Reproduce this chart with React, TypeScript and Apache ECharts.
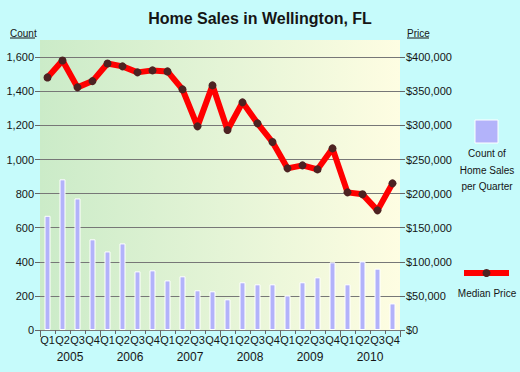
import React, { useEffect, useRef } from "react";
import * as echarts from "echarts";

const quarters = [
  "Q1", "Q2", "Q3", "Q4", "Q1", "Q2", "Q3", "Q4", "Q1", "Q2", "Q3", "Q4",
  "Q1", "Q2", "Q3", "Q4", "Q1", "Q2", "Q3", "Q4", "Q1", "Q2", "Q3", "Q4",
];
const years = ["2005", "2006", "2007", "2008", "2009", "2010"];
const salesCount = [
  670, 884, 772, 532, 461, 508, 344, 350, 291, 315, 233, 227,
  180, 280, 268, 268, 203, 280, 309, 397, 268, 403, 360, 156,
];
const medianPrice = [
  370500, 395400, 355900, 365100, 391000, 386700, 377900, 380800, 379300, 352900, 298700, 358800,
  293300, 333900, 303100, 275700, 237100, 241500, 235600, 266400, 201900, 199000, 175500, 215100,
];

const FONT = "Arial, 'Liberation Sans', sans-serif";
const TXT = "#151515";

export default function App() {
  const ref = useRef<HTMLDivElement>(null);
  useEffect(() => {
    if (!ref.current) return;
    const chart = echarts.init(ref.current, null, { renderer: "svg" });
    chart.setOption({
      animation: false,
      backgroundColor: "#c6fbfb",
      textStyle: { fontFamily: FONT },
      title: {
        text: "Home Sales in Wellington, FL",
        left: "center",
        top: 5,
        textStyle: { fontSize: 16, fontWeight: "bold", color: TXT, fontFamily: FONT },
      },
      grid: { left: 40, right: 120, top: 57.3, bottom: 42 },
      graphic: [
        {
          type: "rect",
          z: -100,
          shape: { x: 40, y: 40, width: 360, height: 290 },
          style: {
            fill: new echarts.graphic.LinearGradient(0, 0, 1, 0, [
              { offset: 0, color: "#cbebc8" },
              { offset: 0.5, color: "#e4f4d6" },
              { offset: 1, color: "#fefde2" },
            ]),
          },
        },
        { type: "text", x: 10, y: 33, style: { text: "Count", fontSize: 10, fill: TXT, fontFamily: FONT, textVerticalAlign: "middle" } },
        { type: "line", shape: { x1: 10, y1: 38, x2: 35, y2: 38 }, style: { stroke: TXT, lineWidth: 1 } },
        { type: "text", x: 407, y: 33, style: { text: "Price", fontSize: 10, fill: TXT, fontFamily: FONT, textVerticalAlign: "middle" } },
        { type: "line", shape: { x1: 407, y1: 38, x2: 429, y2: 38 }, style: { stroke: TXT, lineWidth: 1 } },
        // legend
        { type: "rect", shape: { x: 475, y: 120, width: 23, height: 23 }, style: { fill: "#b3b3fa", stroke: "#ffffff", lineWidth: 1 } },
        { type: "text", x: 487, y: 153, style: { text: "Count of", fontSize: 10, fill: TXT, fontFamily: FONT, textAlign: "center", textVerticalAlign: "middle" } },
        { type: "text", x: 487, y: 170, style: { text: "Home Sales", fontSize: 10, fill: TXT, fontFamily: FONT, textAlign: "center", textVerticalAlign: "middle" } },
        { type: "text", x: 487, y: 186, style: { text: "per Quarter", fontSize: 10, fill: TXT, fontFamily: FONT, textAlign: "center", textVerticalAlign: "middle" } },
        { type: "line", shape: { x1: 464, y1: 273, x2: 509, y2: 273 }, style: { stroke: "#ff0000", lineWidth: 6 } },
        { type: "circle", shape: { cx: 486.5, cy: 273, r: 4 }, style: { fill: "#4d2222" } },
        { type: "text", x: 487, y: 293, style: { text: "Median Price", fontSize: 10, fill: TXT, fontFamily: FONT, textAlign: "center", textVerticalAlign: "middle" } },
      ],
      xAxis: [
        {
          type: "category",
          data: quarters,
          position: "bottom",
          axisLine: { show: false },
          axisTick: { show: true, interval: 0, length: 4, lineStyle: { color: "#666" } },
          axisLabel: { interval: 0, margin: 4, fontSize: 11, color: TXT, fontFamily: FONT },
        },
        {
          type: "category",
          data: years,
          position: "bottom",
          axisLine: { show: false },
          axisTick: { show: true, interval: 0, length: 7, lineStyle: { color: "#666" } },
          axisLabel: { interval: 0, margin: 21, fontSize: 12, color: TXT, fontFamily: FONT },
        },
      ],
      yAxis: [
        {
          type: "value",
          min: 0,
          max: 1600,
          interval: 200,
          position: "left",
          axisLine: { show: false },
          axisTick: { show: true, length: 5, lineStyle: { color: "#666" } },
          splitLine: { show: true, lineStyle: { color: "#777", width: 1 } },
          axisLabel: {
            margin: 6,
            fontSize: 11,
            color: TXT,
            fontFamily: FONT,
            formatter: (v: number) => v.toLocaleString("en-US"),
          },
        },
        {
          type: "value",
          min: 0,
          max: 400000,
          interval: 50000,
          position: "right",
          axisLine: { show: false },
          axisTick: { show: true, length: 5, lineStyle: { color: "#666" } },
          splitLine: { show: false },
          axisLabel: {
            margin: 6,
            fontSize: 11,
            color: TXT,
            fontFamily: FONT,
            formatter: (v: number) => "$" + v.toLocaleString("en-US"),
          },
        },
      ],
      series: [
        {
          type: "bar",
          name: "Count of Home Sales per Quarter",
          data: salesCount,
          xAxisIndex: 0,
          yAxisIndex: 0,
          barWidth: 6,
          itemStyle: { color: "#b3b3fa", borderColor: "#ffffff", borderWidth: 1 },
        },
        {
          type: "line",
          name: "Median Price",
          data: medianPrice,
          xAxisIndex: 0,
          yAxisIndex: 1,
          symbol: "circle",
          symbolSize: 8,
          lineStyle: { color: "#ff0000", width: 6 },
          itemStyle: { color: "#4d2222" },
          z: 5,
        },
      ],
    });
    return () => chart.dispose();
  }, []);
  return <div ref={ref} style={{ width: 520, height: 372, position: "absolute", left: 0, top: 0 }} />;
}
